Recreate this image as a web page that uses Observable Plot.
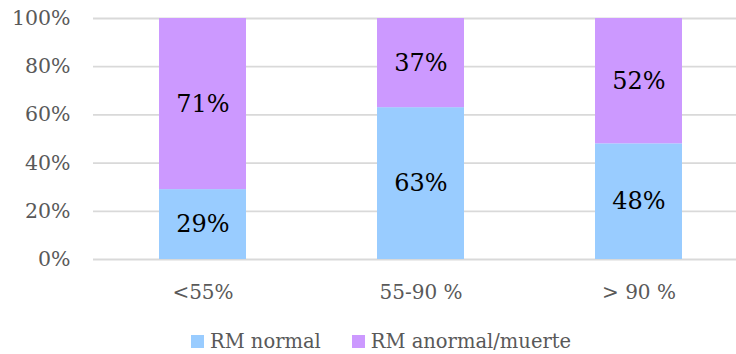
<!DOCTYPE html>
<html>
<head>
<meta charset="utf-8">
<script src="https://cdn.jsdelivr.net/npm/d3@7"></script>
<script src="https://cdn.jsdelivr.net/npm/@observablehq/plot@0.6"></script>
<style>
  html, body { margin: 0; padding: 0; background: #fff; overflow: hidden; }
  #chart svg { overflow: hidden; }
  #legend { margin-left: 191px; margin-top: 5px; }
  #legend .lg-swatch { margin-right: 31px !important; font-family: "DejaVu Serif", serif; font-size: 19.5px; color: #595959; line-height: 22px; }
  #legend .lg-swatch svg { margin-right: 6px !important; }
</style>
</head>
<body>
<div id="chart"></div>
<div id="legend"></div>
<script>
// Ranges of the measured value (x categories)
const categories = ["<55%", "55-90 %", "> 90 %"];
// Share of patients per outcome, in percent
const series = ["RM normal", "RM anormal/muerte"];
const rmNormal = [29, 63, 48];
const rmAnormal = [71, 37, 52];
const colors = ["#99CCFF", "#CC99FF"];
const yTicks = [0, 20, 40, 60, 80, 100];

const rows = [];
categories.forEach((c, i) => {
  rows.push({category: c, outcome: series[0], value: rmNormal[i]});
  rows.push({category: c, outcome: series[1], value: rmAnormal[i]});
});

const chartW = 736, chartH = 320, plotTop = 18, zeroY = 259;

const chart = Plot.plot({
  width: chartW,
  height: chartH,
  marginTop: plotTop,
  marginBottom: chartH - zeroY,
  marginLeft: 93,
  marginRight: -13,
  style: {fontFamily: "DejaVu Serif, serif", background: "#fff"},
  x: {domain: categories, paddingInner: 0.6, paddingOuter: 0.3, label: null},
  y: {domain: [0, 100], label: null},
  color: {domain: series, range: colors},
  marks: [
    Plot.ruleY(yTicks, {stroke: "#d9d9d9", strokeWidth: 1.8}),
    Plot.barY(rows, Plot.stackY({x: "category", y: "value", fill: "outcome", order: series})),
    Plot.text(rows, Plot.stackY({
      x: "category", y: "value", z: "outcome", order: series,
      text: d => d.value + "%", fill: "#000", fontSize: 24
    })),
    Plot.axisY({ticks: yTicks, tickFormat: d => d + "%", tickSize: 0, tickPadding: 23,
      fontSize: 20.5, fill: "#595959"}),
    Plot.axisX({tickSize: 0, tickPadding: 25, fontSize: 20, fill: "#595959"})
  ]
});
document.getElementById("chart").appendChild(chart);

const legend = Plot.legend({
  color: {domain: series, range: colors},
  className: "lg",
  swatchSize: 13
});
document.getElementById("legend").appendChild(legend);
</script>
</body>
</html>
